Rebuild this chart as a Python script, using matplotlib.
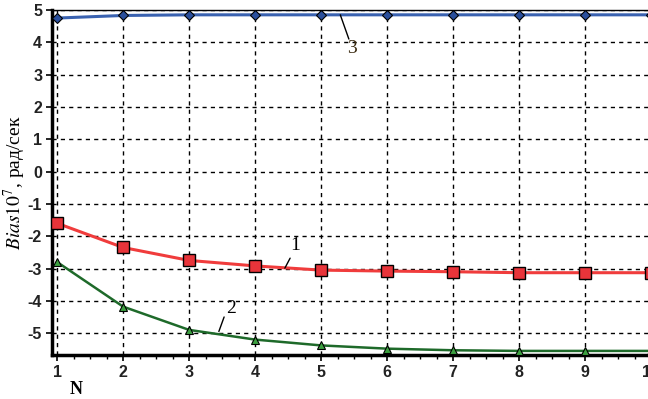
import matplotlib.pyplot as plt
from matplotlib.ticker import MultipleLocator

plt.rcParams["mathtext.fontset"] = "stix"
plt.rcParams["axes.unicode_minus"] = False

# Data
n = [1, 2, 3, 4, 5, 6, 7, 8, 9, 10]
bias1 = [-1.6, -2.35, -2.75, -2.92, -3.05, -3.08, -3.1, -3.13, -3.13, -3.13]
bias2 = [-2.8, -4.18, -4.9, -5.2, -5.38, -5.48, -5.53, -5.55, -5.55, -5.55]
bias3 = [4.75, 4.83, 4.85, 4.85, 4.85, 4.85, 4.85, 4.85, 4.85, 4.85]
y_ticks = [-5, -4, -3, -2, -1, 0, 1, 2, 3, 4, 5]

fig = plt.figure(figsize=(6.48, 3.99), dpi=100)
ax = fig.add_axes([0.080, 0.110, 0.93, 0.865])

ax.plot(n, bias3, color="#3a62b0", lw=2.2, marker="D", ms=5,
        mfc="#2a4f9c", mec="black", mew=0.8, zorder=3)
ax.plot(n, bias1, color="#f03c3c", lw=2.2, marker="s", ms=8,
        mfc="#e8343a", mec="black", mew=1.0, zorder=3)
ax.plot(n, bias2, color="#1e6a2a", lw=1.8, marker="^", ms=6,
        mfc="#3ca040", mec="black", mew=0.8, zorder=3)

ax.set_xlim(0.92, 10.05)
ax.set_ylim(-5.68, 5)
ax.set_xticks(n)
ax.set_yticks(y_ticks)
ax.xaxis.set_minor_locator(MultipleLocator(0.25))
ax.tick_params(which="both", direction="out", top=False, right=False)
ax.tick_params(which="major", length=4, width=1.2, labelsize=11.5, pad=3)
ax.tick_params(which="minor", length=3, width=1)
for lab in ax.get_xticklabels() + ax.get_yticklabels():
    lab.set_fontweight("bold")
    lab.set_family("Liberation Sans")
    lab.set_color("#222222")

ax.grid(True, which="major", color="black", ls=(0, (3, 3)), lw=1)
for s in ["left", "bottom"]:
    ax.spines[s].set_linewidth(2.5)
ax.spines["top"].set_linewidth(1)
ax.spines["right"].set_visible(False)

serif = ["Liberation Serif", "DejaVu Serif"]
ax.set_ylabel(r"$\mathit{Bias}10^{7}$, рад/сек", fontsize=14,
              family=serif)
ax.yaxis.set_label_coords(-0.04, 0.5)
ax.set_xlabel("N", fontsize=13, family=serif, fontweight="bold")
ax.xaxis.set_label_coords(0.04, -0.075)

# curve labels with leader lines
leader = dict(arrowstyle="-", color="black", lw=1, shrinkA=0, shrinkB=0)
ax.annotate("", xy=(4.45, -2.99), xytext=(4.53, -2.68), arrowprops=leader)
ax.text(4.61, -2.28, "1", fontsize=14, family=serif, ha="center", va="center")
ax.annotate("", xy=(3.45, -4.95), xytext=(3.53, -4.5), arrowprops=leader)
ax.text(3.64, -4.23, "2", fontsize=14, family=serif, ha="center", va="center")
ax.annotate("", xy=(5.29, 4.85), xytext=(5.42, 4.1), arrowprops=leader)
ax.text(5.46, 3.82, "3", fontsize=14, family=serif, ha="center", va="center",
        color="#3a2a10")

fig.savefig("out.png", dpi=100)
